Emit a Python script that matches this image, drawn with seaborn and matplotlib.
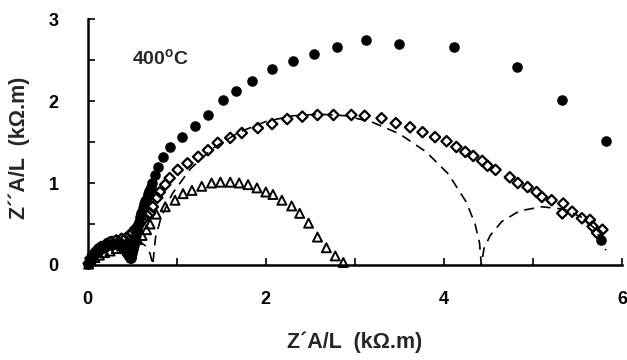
import numpy as np
import pandas as pd
import matplotlib
matplotlib.use("Agg")
import matplotlib.pyplot as plt
from matplotlib.ticker import MultipleLocator
import seaborn as sns

# filled circles
circ_x = [0.005, 0.015, 0.03, 0.045, 0.06, 0.08, 0.10, 0.12, 0.15, 0.18, 0.21,
          0.24, 0.27, 0.30, 0.33, 0.36, 0.39, 0.41, 0.43, 0.45, 0.47, 0.48, 0.49,
          0.50, 0.51, 0.52, 0.53, 0.54, 0.55, 0.56, 0.57, 0.585, 0.60, 0.615,
          0.63, 0.645, 0.66, 0.675, 0.69, 0.705, 0.72, 0.75, 0.79,
          0.84, 0.92, 1.06, 1.20, 1.35, 1.52, 1.67, 1.84, 2.07, 2.30, 2.54, 2.80,
          3.12, 3.49, 4.11, 4.82, 5.33, 5.82, 5.76]
circ_y = [0.01, 0.04, 0.07, 0.10, 0.12, 0.14, 0.16, 0.18, 0.20, 0.22, 0.23,
          0.24, 0.25, 0.26, 0.26, 0.25, 0.23, 0.20, 0.16, 0.12, 0.09, 0.08, 0.10,
          0.14, 0.19, 0.24, 0.30, 0.36, 0.42, 0.48, 0.53, 0.59, 0.64, 0.69,
          0.74, 0.78, 0.82, 0.86, 0.90, 0.95, 1.00, 1.10, 1.20,
          1.32, 1.44, 1.56, 1.70, 1.83, 2.01, 2.12, 2.24, 2.39, 2.49, 2.57, 2.66,
          2.74, 2.70, 2.66, 2.41, 2.01, 1.51, 0.30]

# open diamonds
diam_x = [0.01, 0.03, 0.06, 0.10, 0.15, 0.20, 0.26, 0.32, 0.38, 0.43, 0.47, 0.50,
          0.54, 0.58, 0.63, 0.67, 0.70, 0.73, 0.78, 0.81, 0.87, 0.92, 1.01, 1.12,
          1.24, 1.35, 1.46, 1.60, 1.73, 1.91, 2.07, 2.24, 2.41, 2.58, 2.76, 2.96,
          3.11, 3.30, 3.46, 3.62, 3.76, 3.90, 4.03, 4.14, 4.24, 4.33, 4.43, 4.49,
          4.58, 4.74, 4.83, 4.94, 5.04, 5.10, 5.21, 5.34, 5.33, 5.44, 5.55, 5.64,
          5.67, 5.78, 5.72]
diam_y = [0.02, 0.08, 0.13, 0.18, 0.22, 0.25, 0.28, 0.30, 0.32, 0.33, 0.36, 0.40,
          0.45, 0.50, 0.56, 0.60, 0.63, 0.71, 0.82, 0.89, 0.98, 1.06, 1.16, 1.24,
          1.32, 1.40, 1.49, 1.55, 1.61, 1.67, 1.72, 1.78, 1.81, 1.83, 1.83, 1.83,
          1.82, 1.79, 1.73, 1.68, 1.62, 1.56, 1.51, 1.44, 1.38, 1.33, 1.27, 1.21,
          1.16, 1.07, 1.00, 0.95, 0.89, 0.83, 0.79, 0.75, 0.63, 0.65, 0.57, 0.55,
          0.47, 0.43, 0.39]

# open triangles
tri_x = [0.01, 0.04, 0.08, 0.13, 0.19, 0.25, 0.32, 0.38, 0.44, 0.50, 0.56, 0.61,
         0.66, 0.70, 0.77, 0.87, 0.98, 1.07, 1.17, 1.28, 1.39, 1.49, 1.60, 1.70,
         1.80, 1.90, 2.00, 2.08, 2.18, 2.29, 2.38, 2.48, 2.58, 2.68, 2.78, 2.87]
tri_y = [0.01, 0.05, 0.09, 0.12, 0.15, 0.17, 0.20, 0.23, 0.26, 0.28, 0.31, 0.36,
         0.43, 0.50, 0.62, 0.71, 0.79, 0.87, 0.91, 0.96, 1.00, 1.01, 1.01, 1.00,
         0.98, 0.94, 0.89, 0.86, 0.79, 0.72, 0.63, 0.51, 0.34, 0.21, 0.11, 0.03]

# dashed fit
fit_x = [0.00, 0.03, 0.08, 0.15, 0.25, 0.37, 0.48, 0.58, 0.65, 0.70, 0.73,
         0.76, 0.82, 0.95, 1.15, 1.40, 1.70, 2.00, 2.30, 2.60, 2.90, 3.20, 3.50,
         3.80, 4.05, 4.25, 4.35, 4.40, 4.42,
         4.45, 4.52, 4.65, 4.85, 5.10, 5.35, 5.55, 5.70, 5.82]
fit_y = [0.00, 0.14, 0.23, 0.29, 0.34, 0.36, 0.34, 0.29, 0.23, 0.14, 0.00,
         0.33, 0.57, 0.87, 1.17, 1.42, 1.62, 1.75, 1.82, 1.84, 1.82, 1.74, 1.60,
         1.38, 1.11, 0.77, 0.50, 0.27, 0.00,
         0.20, 0.36, 0.53, 0.66, 0.71, 0.68, 0.58, 0.44, 0.18]

sns.set_theme(style="ticks")
plt.rcParams['font.family'] = ['Liberation Sans', 'DejaVu Sans']
plt.rcParams['mathtext.fontset'] = 'custom'
plt.rcParams['mathtext.bf'] = 'Liberation Sans:bold'
plt.rcParams['mathtext.rm'] = 'Liberation Sans'

fig = plt.figure(figsize=(6.27, 3.6), dpi=100)
ax = fig.add_axes([0.140, 0.264, 0.852, 0.683])

sns.lineplot(x=fit_x, y=fit_y, ax=ax, sort=False, estimator=None, color='black',
             linewidth=1.2, linestyle=(0, (6, 4)), clip_on=False)
sns.scatterplot(x=tri_x, y=tri_y, ax=ax, marker='^', s=42, facecolor='none',
                edgecolor='black', linewidth=1.4, clip_on=False, zorder=3)
sns.scatterplot(x=diam_x, y=diam_y, ax=ax, marker='D', s=28, facecolor='none',
                edgecolor='black', linewidth=1.6, clip_on=False, zorder=3)
sns.scatterplot(x=circ_x, y=circ_y, ax=ax, marker='o', s=58, color='black',
                edgecolor='black', linewidth=0, clip_on=False, zorder=4)

ax.set_xlim(0, 6)
ax.set_ylim(0, 3)
ax.xaxis.set_major_locator(MultipleLocator(2))
ax.xaxis.set_minor_locator(MultipleLocator(1))
ax.yaxis.set_major_locator(MultipleLocator(1))
ax.yaxis.set_minor_locator(MultipleLocator(0.5))
ax.tick_params(which='both', direction='in', length=5, width=1.2, colors='black')
ax.tick_params(axis='x', which='major', pad=19, labelsize=13)
ax.tick_params(axis='y', which='major', pad=21, labelsize=13)
for lab in ax.get_xticklabels() + ax.get_yticklabels():
    lab.set_fontweight('bold')
sns.despine(ax=ax)
for sp in ['left', 'bottom']:
    ax.spines[sp].set_linewidth(1.8)
    ax.spines[sp].set_color('black')

ax.set_xlabel("Z´A/L  (kΩ.m)", fontsize=15.5, fontweight='bold')
ax.set_ylabel("Z´´A/L  (kΩ.m)", fontsize=15.5, fontweight='bold')
ax.xaxis.set_label_coords(0.50, -0.27)
ax.yaxis.set_label_coords(-0.108, 0.476)
ax.text(0.50, 2.52, r"400$^{\mathbf{o}}$C", fontsize=14, fontweight='bold',
        ha='left', va='center')

fig.savefig("out.png", dpi=100)
